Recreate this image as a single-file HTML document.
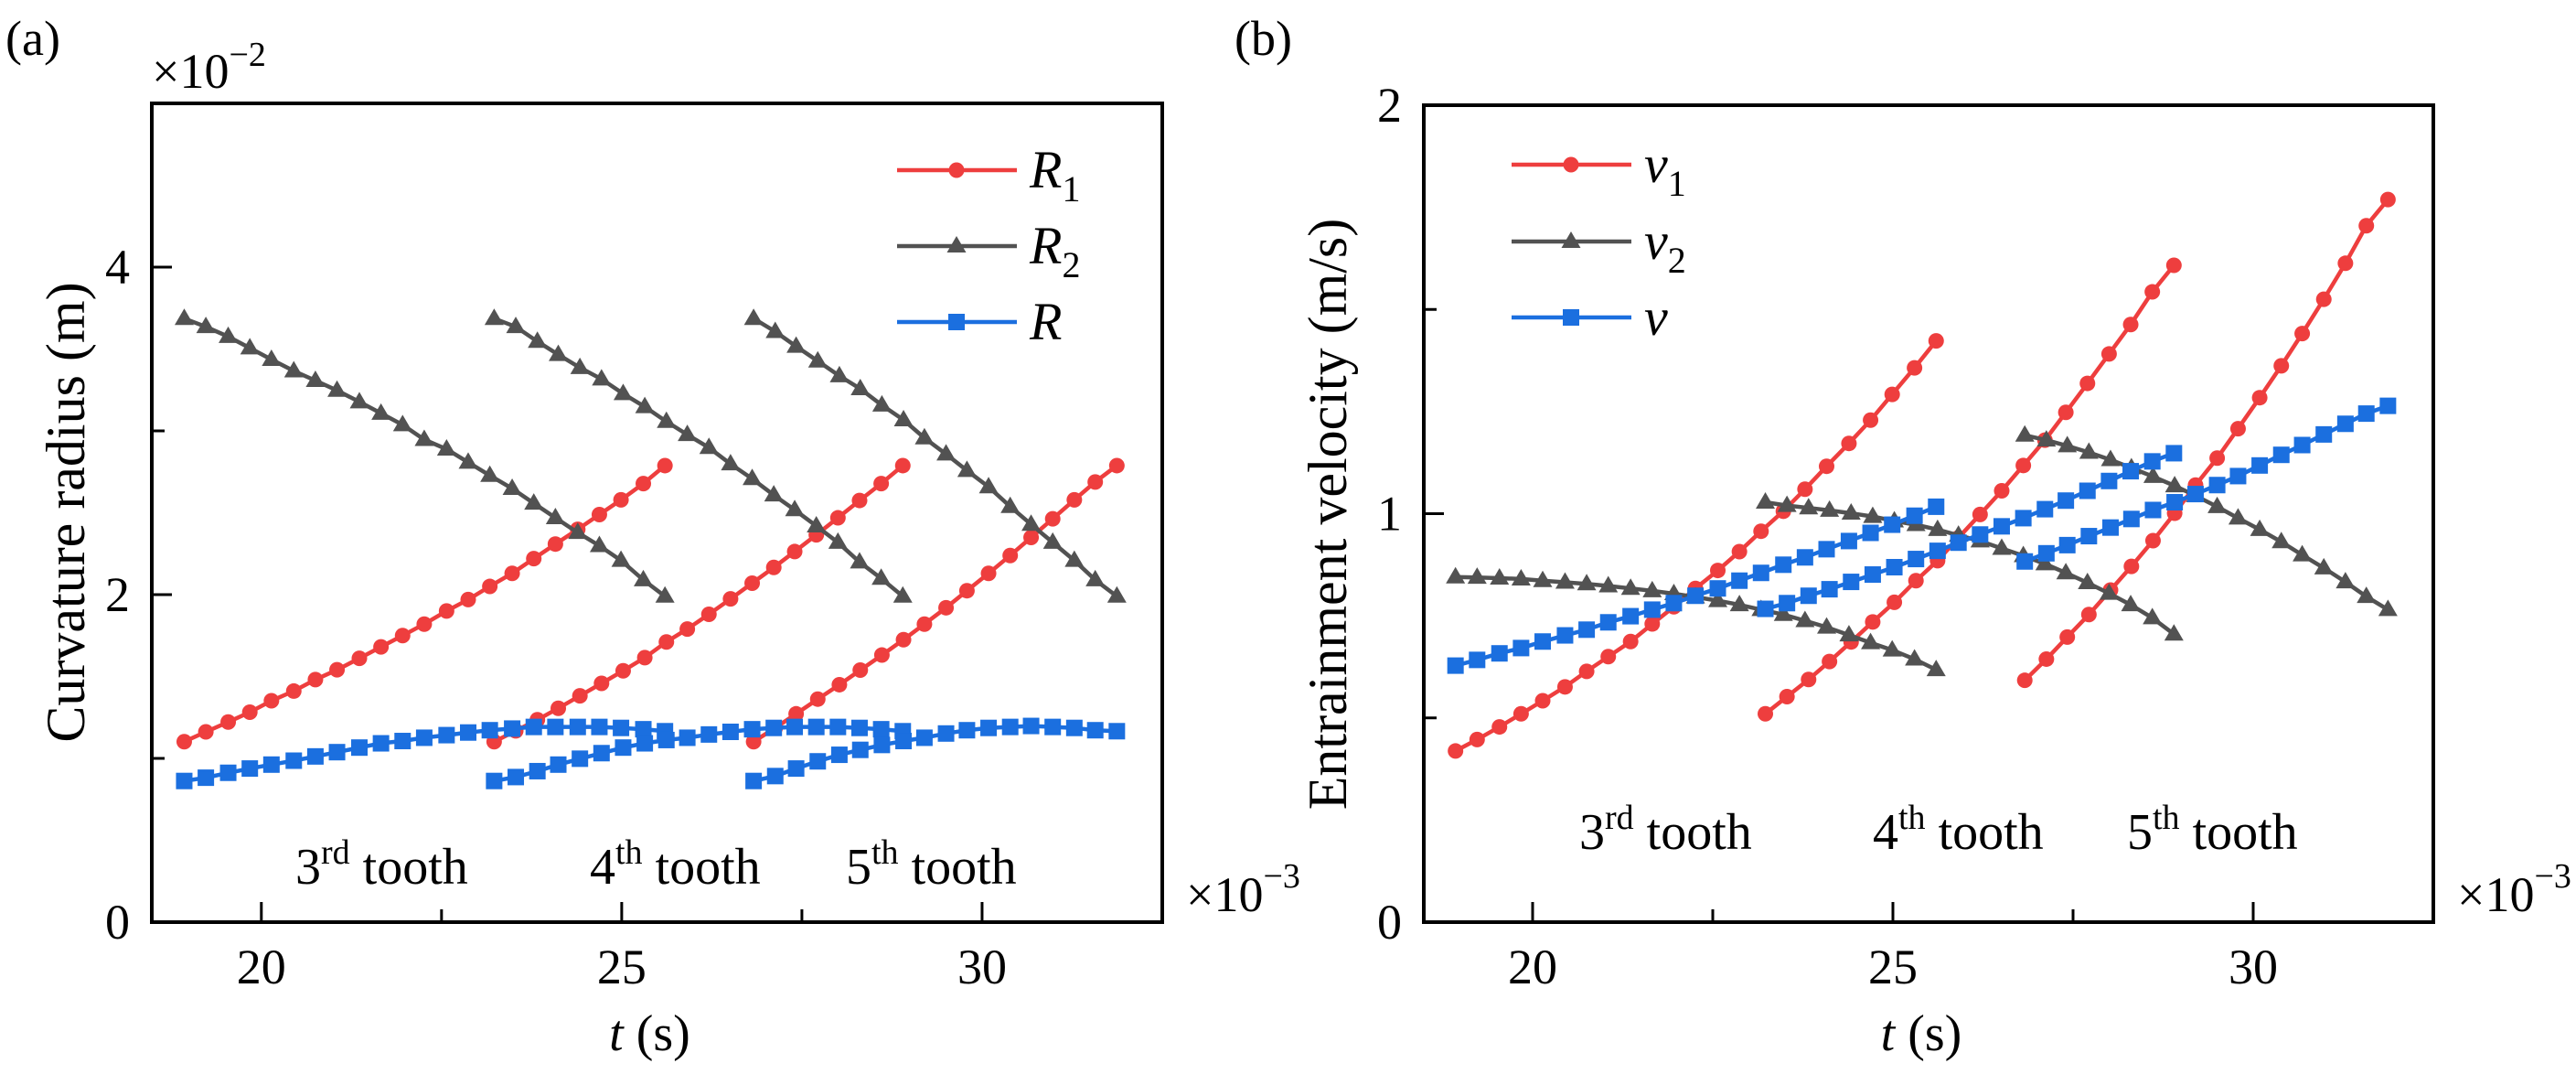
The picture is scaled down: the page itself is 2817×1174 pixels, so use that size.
<!DOCTYPE html>
<html><head><meta charset="utf-8">
<style>
html,body{margin:0;padding:0;background:#fff;}
svg{display:block;}
svg text{font-family:"Liberation Serif","Times New Roman",serif;}
</style></head>
<body>
<svg id="fig" width="2817" height="1174" viewBox="0 0 2817 1174" xmlns="http://www.w3.org/2000/svg" font-family="Liberation Serif, serif">
<text x="6" y="60" font-size="54" font-family="Liberation Serif, serif">(a)</text>
<text x="1350" y="60" font-size="54" font-family="Liberation Serif, serif">(b)</text>
</svg>
<script>
// ---------- data ----------
const t3 = [18.93,19.23,19.54,19.84,20.14,20.45,20.75,21.05,21.36,21.66,21.96,22.26,22.57,22.87,23.17,23.48,23.78,24.08,24.39,24.69,24.99,25.30,25.60];
const t4 = [23.23,23.53,23.83,24.12,24.42,24.72,25.02,25.32,25.62,25.91,26.21,26.51,26.81,27.11,27.40,27.70,28.00,28.30,28.60,28.90];
const t5 = [26.83,27.13,27.42,27.72,28.02,28.31,28.61,28.91,29.20,29.50,29.79,30.09,30.39,30.68,30.98,31.28,31.57,31.87];

const R1_3 = [1.102,1.162,1.222,1.282,1.352,1.411,1.481,1.541,1.611,1.681,1.750,1.820,1.900,1.970,2.050,2.130,2.220,2.309,2.399,2.489,2.579,2.678,2.788];
const R1_4 = [1.102,1.168,1.236,1.306,1.382,1.458,1.535,1.615,1.711,1.790,1.880,1.974,2.070,2.166,2.263,2.365,2.469,2.575,2.678,2.788];
const R1_5 = [1.102,1.186,1.272,1.362,1.450,1.539,1.631,1.725,1.820,1.920,2.024,2.130,2.239,2.349,2.463,2.579,2.688,2.788];
const R2_3 = [3.686,3.636,3.576,3.506,3.436,3.366,3.307,3.247,3.177,3.107,3.037,2.947,2.888,2.808,2.728,2.648,2.558,2.469,2.379,2.299,2.209,2.090,1.990];
const R2_4 = [3.686,3.636,3.546,3.466,3.386,3.316,3.227,3.147,3.057,2.977,2.898,2.798,2.708,2.608,2.518,2.419,2.319,2.199,2.099,1.990];
const R2_5 = [3.686,3.606,3.516,3.426,3.336,3.257,3.157,3.067,2.957,2.858,2.758,2.658,2.538,2.429,2.319,2.209,2.090,1.990];
const R_3 = [0.862,0.882,0.912,0.938,0.962,0.986,1.012,1.038,1.066,1.092,1.106,1.126,1.142,1.158,1.172,1.182,1.192,1.192,1.192,1.192,1.186,1.178,1.166];
const R_4 = [0.862,0.886,0.922,0.962,0.998,1.032,1.066,1.092,1.112,1.126,1.146,1.162,1.178,1.186,1.192,1.192,1.192,1.186,1.178,1.166];
const R_5 = [0.862,0.892,0.938,0.982,1.022,1.052,1.082,1.106,1.126,1.152,1.172,1.186,1.192,1.198,1.192,1.186,1.172,1.166];

const v1_3 = [0.419,0.447,0.478,0.510,0.542,0.576,0.614,0.650,0.687,0.730,0.772,0.817,0.861,0.907,0.957,1.006,1.060,1.116,1.172,1.229,1.292,1.357,1.423];
const v1_4 = [0.510,0.552,0.594,0.638,0.686,0.735,0.783,0.836,0.885,0.941,0.998,1.056,1.118,1.180,1.248,1.319,1.391,1.463,1.543,1.608];
const v1_5 = [0.592,0.644,0.698,0.753,0.813,0.871,0.934,1.001,1.070,1.136,1.208,1.284,1.362,1.441,1.525,1.613,1.705,1.769];
const v2_3 = [0.845,0.844,0.842,0.840,0.836,0.832,0.828,0.823,0.817,0.811,0.804,0.796,0.787,0.777,0.765,0.753,0.738,0.722,0.703,0.684,0.666,0.644,0.618];
const v2_4 = [1.028,1.020,1.014,1.008,1.001,0.993,0.982,0.973,0.961,0.947,0.933,0.915,0.897,0.877,0.855,0.831,0.805,0.777,0.745,0.705];
const v2_5 = [1.192,1.180,1.166,1.150,1.132,1.112,1.091,1.068,1.044,1.017,0.989,0.961,0.931,0.899,0.867,0.833,0.797,0.765];
const v_3 = [0.628,0.642,0.658,0.671,0.687,0.702,0.716,0.734,0.749,0.765,0.781,0.799,0.817,0.836,0.855,0.875,0.893,0.913,0.933,0.953,0.973,0.995,1.017];
const v_4 = [0.767,0.781,0.799,0.815,0.833,0.851,0.869,0.889,0.909,0.929,0.949,0.969,0.989,1.011,1.032,1.056,1.080,1.104,1.128,1.148];
const v_5 = [0.883,0.903,0.923,0.945,0.966,0.987,1.009,1.028,1.048,1.070,1.092,1.118,1.144,1.168,1.194,1.220,1.245,1.264];

const xTicks = [20,25,30];
const xMinor = [22.5,27.5];
const yTicksA = [0,2,4];
const yMinorA = [1,3];
const yTicksB = [0,1,2];
const yMinorB = [0.5,1.5];
const toothLabels = [["3","rd"],["4","th"],["5","th"]];

// ---------- drawing ----------
const NS = "http://www.w3.org/2000/svg";
const FONT = "Liberation Serif, serif";
const svg = document.getElementById('fig');
const RED="#ee3e3e", GRAY="#525252", BLUE="#1b6fdf";
function mk(tag, attrs, parent){
  const e=document.createElementNS(NS,tag);
  for(const k in attrs) e.setAttribute(k,attrs[k]);
  if(tag==='text') e.setAttribute('font-family',FONT);
  (parent||svg).appendChild(e); return e;
}
function marker(g,type,x,y,color){
  let m;
  if(type==='circle'){ m=mk('circle',{cx:x,cy:y,r:8.5,fill:color},g); }
  else if(type==='square'){ m=mk('rect',{x:x-9,y:y-9,width:18,height:18,fill:color},g); }
  else { m=mk('polygon',{points:`${x},${y-11} ${x-10.5},${y+7} ${x+10.5},${y+7}`,fill:color},g); }
  
  
}
function panel(cfg){
  const X=v=>cfg.L+(v-cfg.x0)/(cfg.x1-cfg.x0)*(cfg.R-cfg.L);
  const Y=v=>cfg.B-(v-cfg.y0)/(cfg.y1-cfg.y0)*(cfg.B-cfg.T);
  const g=mk('g',{});
  
  
  cfg.series.forEach(s=>{
    s.parts.forEach((p,pi)=>{
      const sg=mk('g',{},g);
      
      
      const pts=p.t.map((t,i)=>X(t).toFixed(1)+','+Y(p.v[i]).toFixed(1)).join(' ');
      const pl=mk('polyline',{points:pts,fill:'none',stroke:s.color,'stroke-width':4.5},sg);
      
      
      p.t.forEach((t,i)=>marker(sg,s.mark,X(t),Y(p.v[i]),s.color));
    });
  });
  const fr=mk('rect',{x:cfg.L,y:cfg.T,width:cfg.R-cfg.L,height:cfg.B-cfg.T,fill:'none',stroke:'#000','stroke-width':4},g);
  
  
  xTicks.forEach(v=>{
    const l=mk('line',{x1:X(v),x2:X(v),y1:cfg.B,y2:cfg.B-22,stroke:'#000','stroke-width':3},g);
    
    
    const tx=mk('text',{x:X(v),y:1075,'font-size':54,'text-anchor':'middle'},g);
    tx.textContent=v;
    
    
  });
  xMinor.forEach(v=>{
    const l=mk('line',{x1:X(v),x2:X(v),y1:cfg.B,y2:cfg.B-14,stroke:'#000','stroke-width':3},g);
    
    
  });
  cfg.yTicks.forEach(v=>{
    const l=mk('line',{x1:cfg.L,x2:cfg.L+22,y1:Y(v),y2:Y(v),stroke:'#000','stroke-width':3},g);
    
    
    const tx=mk('text',{x:cfg.L-24,y:Y(v)+18,'font-size':54,'text-anchor':'end'},g);
    tx.textContent=v;
    
    
  });
  cfg.yMinor.forEach(v=>{
    const l=mk('line',{x1:cfg.L,x2:cfg.L+14,y1:Y(v),y2:Y(v),stroke:'#000','stroke-width':3},g);
    
    
  });
  const xt=mk('text',{x:(cfg.L+cfg.R)/2-8,y:1148,'font-size':56,'text-anchor':'middle'},g);
  xt.innerHTML='<tspan font-style="italic">t</tspan> (s)';
  
  
  const xm=mk('text',{x:cfg.R+26,y:996,'font-size':54},g);
  xm.innerHTML='×10<tspan dy="-26" font-size="38">−3</tspan>';
  
  
  const yt=mk('text',{x:0,y:0,'font-size':cfg.ytsize,'text-anchor':'middle',transform:`translate(${cfg.ytx},${cfg.yty}) rotate(-90)`},g);
  yt.textContent=cfg.ytitle;
  
  
  cfg.toothX.forEach((x,i)=>{
    const tl=mk('text',{x:x,y:cfg.toothY,'font-size':56},g);
    tl.innerHTML=toothLabels[i][0]+'<tspan dy="-22" font-size="38">'+toothLabels[i][1]+'</tspan><tspan dy="22"> tooth</tspan>';
    
    
  });
  cfg.series.forEach((s,i)=>{
    const lg=mk('g',{},g);
    
    
    const y=cfg.legY[i];
    mk('line',{x1:cfg.legX,x2:cfg.legX+131,y1:y,y2:y,stroke:s.color,'stroke-width':4.5},lg);
    marker(lg,s.mark,cfg.legX+65,y,s.color);
    const t=mk('text',{x:cfg.legX+145,y:y+19,'font-size':58},lg);
    t.innerHTML='<tspan font-style="italic">'+s.sym+'</tspan>'+(s.sub?'<tspan dy="15" font-size="40">'+s.sub+'</tspan>':'');
  });
  return g;
}

panel({name:'curvature-radius-chart',L:166,R:1271,T:113,B:1008,x0:18.48,x1:32.5,y0:0,y1:5,
  yTicks:yTicksA,yMinor:yMinorA,ytitle:'Curvature radius (m)',ytsize:60,ytx:92,yty:560,
  toothX:[323,645,925],toothY:966,legX:981,legY:[186,269,352],
  series:[
   {key:'R1',sym:'R',sub:'1',color:RED,mark:'circle',parts:[{t:t3,v:R1_3},{t:t4,v:R1_4},{t:t5,v:R1_5}]},
   {key:'R2',sym:'R',sub:'2',color:GRAY,mark:'triangle',parts:[{t:t3,v:R2_3},{t:t4,v:R2_4},{t:t5,v:R2_5}]},
   {key:'R',sym:'R',sub:'',color:BLUE,mark:'square',parts:[{t:t3,v:R_3},{t:t4,v:R_4},{t:t5,v:R_5}]}
  ]});
const ym=document.createElementNS(NS,'text');
ym.setAttribute('x',166);ym.setAttribute('y',96);ym.setAttribute('font-size',54);
ym.setAttribute('font-family',FONT);
ym.innerHTML='×10<tspan dy="-24" font-size="38">−2</tspan>';


svg.appendChild(ym);

panel({name:'entrainment-velocity-chart',L:1557,R:2661,T:115,B:1008,x0:18.49,x1:32.5,y0:0,y1:2,
  yTicks:yTicksB,yMinor:yMinorB,ytitle:'Entrainment velocity (m/s)',ytsize:60,ytx:1472,yty:562,
  toothX:[1727,2048,2326],toothY:928,legX:1653,legY:[180,264,347],
  series:[
   {key:'v1',sym:'v',sub:'1',color:RED,mark:'circle',parts:[{t:t3,v:v1_3},{t:t4,v:v1_4},{t:t5,v:v1_5}]},
   {key:'v2',sym:'v',sub:'2',color:GRAY,mark:'triangle',parts:[{t:t3,v:v2_3},{t:t4,v:v2_4},{t:t5,v:v2_5}]},
   {key:'v',sym:'v',sub:'',color:BLUE,mark:'square',parts:[{t:t3,v:v_3},{t:t4,v:v_4},{t:t5,v:v_5}]}
  ]});
</script>
</body></html>
